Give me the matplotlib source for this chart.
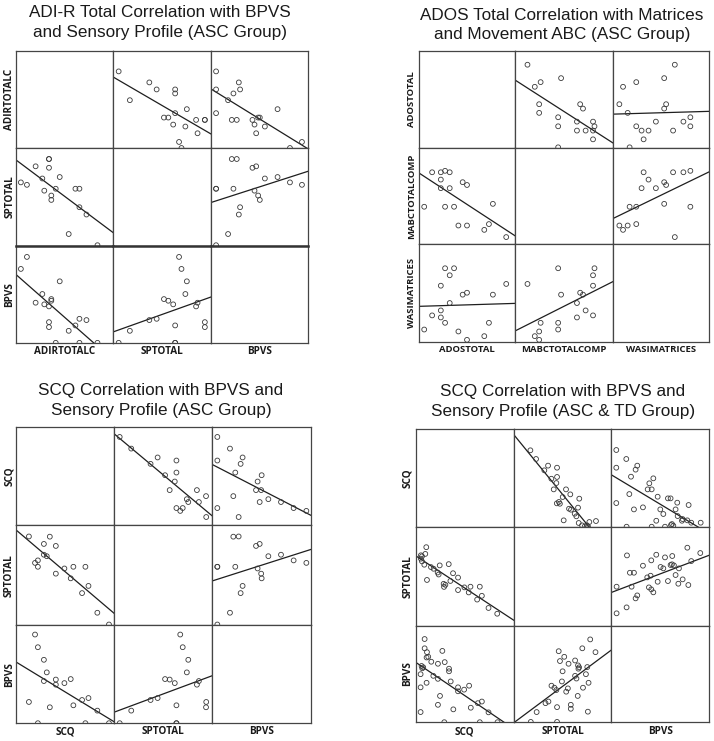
import numpy as np
import matplotlib
matplotlib.use("Agg")
import matplotlib.pyplot as plt

# ---------------- data ----------------
# Values are in display units (0-100 of each variable's plotted range),
# read from the picture (no tick labels are shown in the original).

# Panel 1: ASC group, one entry per child
p1_names = ["ADIRTOTALC", "SPTOTAL", "BPVS"]
p1_adir = [78.8, 67.5, 60.3, 60.3, 56.2, 49.3, 40.1, 36.0, 31.5, 31.5, 29.1, 29.1, 29.1, 24.3, 22.3, 15.4, 6.5, 0.3]
p1_sp = [0.5, 32.0, 39.5, 58.5, 58.5, 12.0, 70.5, 58.5, 51.5, 47.0, 89.0, 89.0, 80.0, 56.5, 69.0, 81.5, 62.5, 65.0]
p1_bpvs = [0.5, 23.8, 25.1, 0.5, 18.3, 12.8, 63.5, 0.5, 43.6, 45.3, 16.6, 21.7, 37.8, 39.9, 50.5, 41.6, 88.5, 76.2]

# Panel 2: ASC group
p2_names = ["ADOSTOTAL", "MABCTOTALCOMP", "WASIMATRICES"]
p2_ados = [85.6, 62.9, 67.7, 71.8, 45.0, 45.0, 40.5, 36.1, 31.6, 27.1, 27.1, 22.3, 22.3, 17.9, 17.9, 17.9, 8.9, 0.7]
p2_mabc = [7.5, 15.0, 21.0, 42.0, 19.5, 61.6, 64.5, 19.5, 39.0, 58.3, 74.8, 39.0, 76.3, 58.3, 67.2, 74.8, 74.8, 39.0]
p2_wasi = [59.3, 5.7, 19.4, 48.3, 1.9, 50.3, 48.3, 10.5, 75.4, 39.7, 68.2, 19.4, 75.4, 24.9, 32.1, 57.5, 27.0, 12.5]

# Panel 3: ASC group
p3_names = ["SCQ", "SPTOTAL", "BPVS"]
p3_scq = [89.6, 77.8, 68.8, 62.3, 53.5, 65.7, 50.8, 44.4, 35.7, 35.7, 29.6, 26.5, 23.6, 23.6, 17.5, 17.5, 14.6, 8.4]
p3_sp = [0.5, 12.3, 39.2, 32.0, 58.4, 58.4, 46.8, 56.7, 79.3, 51.5, 88.6, 69.0, 81.3, 70.5, 58.4, 64.8, 62.3, 88.8]
p3_bpvs = [0.1, 12.9, 25.7, 23.7, 18.3, 0.1, 45.0, 40.9, 39.3, 44.5, 16.3, 51.8, 43.0, 64.6, 0.1, 77.4, 90.3, 21.7]

# Panel 4: ASC & TD group, read pair by pair
p4_names = ["SCQ", "SPTOTAL", "BPVS"]
p4_scq_vs_sp_scq = [78.2, 69.3, 62.5, 60.4, 57.7, 49.1, 50.9, 44.7, 38.2, 38.2, 33.1, 30.4, 28.7,
                    23.9, 25.3, 23.5, 18.4, 17.4, 19.5, 13.3, 10.6, 6.5, 3.8, 1.4, 1.4, 4.8, 5.8, 0.3, 0.3]
p4_scq_vs_sp_sp = [12.1, 17.9, 30.2, 39.4, 26.4, 33.6, 39.4, 38.7, 36.0, 48.6, 53.0, 45.2, 62.2,
                   39.2, 41.3, 42.3, 51.7, 53.7, 60.9, 57.5, 59.2, 46.2, 61.6, 65.0, 70.1, 72.5, 79.3, 67.7, 71.1]
p4_scq_vs_bpvs_scq = [78.5, 69.3, 62.5, 58.4, 51.2, 60.4, 38.2, 38.2, 44.4, 49.5, 33.4, 30.7, 29.0, 29.0,
                      24.2, 19.8, 17.7, 17.7, 17.7, 22.2, 13.0, 24.6, 10.9, 6.1, 2.7, 6.1, 7.8, 6.5, 4.1,
                      4.1, 0.0, 0.0, 0.0, 1.7, 1.0]
p4_scq_vs_bpvs_bpvs = [0.1, 10.3, 21.5, 19.8, 15.1, 0.1, 32.1, 36.2, 33.8, 37.9, 13.4, 42.3, 52.8, 55.5,
                       0.1, 27.3, 18.1, 45.0, 60.6, 73.9, 48.1, 62.3, 62.7, 40.9, 56.9, 67.1, 67.8, 72.6, 76.6,
                       86.2, 10.6, 36.2, 49.8, 55.9, 58.3]
p4_sp_vs_bpvs_sp = [71.0, 39.4, 12.5, 18.5, 53.5, 53.5, 39.4, 27.6, 30.6, 60.6, 48.8, 50.5, 66.0, 38.7,
                    36.7, 33.7, 71.7, 44.4, 59.3, 57.9, 69.0, 45.1, 61.3, 70.4, 62.0, 60.9, 51.2, 57.9,
                    42.4, 46.8, 41.1, 78.8, 65.3, 73.4]
p4_sp_vs_bpvs_bpvs = [11.0, 0.4, 0.4, 10.6, 14.0, 18.1, 15.7, 19.8, 21.5, 27.3, 31.7, 35.1, 35.8, 33.4,
                      35.8, 37.9, 40.9, 42.3, 45.3, 48.1, 49.8, 52.8, 55.5, 57.2, 56.9, 58.9, 60.6, 64.0,
                      63.4, 67.8, 73.6, 72.6, 76.6, 85.8]

titles = [
    ("ADI-R Total Correlation with BPVS", "and Sensory Profile (ASC Group)"),
    ("ADOS Total Correlation with Matrices", "and Movement ABC (ASC Group)"),
    ("SCQ Correlation with BPVS and", "Sensory Profile (ASC Group)"),
    ("SCQ Correlation with BPVS and", "Sensory Profile (ASC & TD Group)"),
]

# ---------------- figure ----------------
W, H = 714, 741
fig = plt.figure(figsize=(W / 100, H / 100), dpi=100)

GRID_COLOR = "#454545"
PT_COLOR = "#3a3a3a"
LINE_COLOR = "#1e1e1e"
TEXT_COLOR = "#1a1a1a"
LABEL_FONT = dict(family=["Open Sans", "DejaVu Sans"], fontweight="bold", color=TEXT_COLOR)
TITLE_FONT = dict(family=["Liberation Sans", "DejaVu Sans"], fontsize=12.3, color=TEXT_COLOR)


def subject_pairs(cols):
    def get(j, i):
        return cols[j], cols[i]
    return get


def pair_lookup(table):
    def get(j, i):
        if (j, i) in table:
            return table[(j, i)]
        xs_other, ys_other = table[(i, j)]
        return ys_other, xs_other
    return get


def draw_matrix(gx, gy, names, get, title, title_x, title_base, rowlab_x, collab_y,
                thick_row_top=None, label_size=7.0):
    for i in range(3):
        for j in range(3):
            x0, x1 = gx[j], gx[j + 1]
            y0, y1 = gy[i], gy[i + 1]
            ax = fig.add_axes([x0 / W, 1 - y1 / H, (x1 - x0) / W, (y1 - y0) / H])
            ax.set_xticks([])
            ax.set_yticks([])
            for s in ax.spines.values():
                s.set_color(GRID_COLOR)
                s.set_linewidth(0.9)
            if thick_row_top is not None and i == thick_row_top:
                ax.spines["top"].set_linewidth(1.8)
                ax.spines["top"].set_color("#333333")
            ax.set_facecolor("white")
            if i != j:
                xv, yv = get(j, i)
                xv = np.asarray(xv, float)
                yv = np.asarray(yv, float)
                ax.scatter(xv, yv, s=12, facecolors="none", edgecolors=PT_COLOR,
                           linewidths=0.6, zorder=3)
                k, b = np.polyfit(xv, yv, 1)
                xs = np.array([-5.0, 95.0])
                ax.plot(xs, k * xs + b, color=LINE_COLOR, lw=0.9, zorder=2)
            ax.set_xlim(-5, 95)
            ax.set_ylim(0, 100)
    # labels
    for i, nm in enumerate(names):
        cy = (gy[i] + gy[i + 1]) / 2
        fig.text(rowlab_x / W, 1 - cy / H, nm, rotation=90, ha="center", va="center",
                 fontsize=label_size, **LABEL_FONT)
        cx = (gx[i] + gx[i + 1]) / 2
        fig.text(cx / W, 1 - collab_y / H, nm, ha="center", va="center",
                 fontsize=label_size, **LABEL_FONT)
    for line, yb in zip(title, title_base):
        fig.text(title_x / W, 1 - yb / H, line, ha="center", va="baseline", **TITLE_FONT)


draw_matrix([15.7, 113.3, 210.7, 308.3], [50.7, 148.3, 245.7, 343.3], p1_names,
            subject_pairs([p1_adir, p1_sp, p1_bpvs]), titles[0], 160, (17, 37), 10, 351.5,
            thick_row_top=2, label_size=7.2)
draw_matrix([418.7, 515.3, 612.7, 709.3], [50.7, 148.0, 244.3, 341.7], p2_names,
            subject_pairs([p2_ados, p2_mabc, p2_wasi]), titles[1], 562, (20, 39.5), 412, 350,
            label_size=6.8)
draw_matrix([15.7, 114.3, 212.3, 311.0], [426.7, 525.3, 625.0, 723.3], p3_names,
            subject_pairs([p3_scq, p3_sp, p3_bpvs]), titles[2], 161, (395, 415), 9.5, 731.5,
            label_size=7.2)
p4_table = {
    (1, 0): (p4_scq_vs_sp_sp, p4_scq_vs_sp_scq),
    (2, 0): (p4_scq_vs_bpvs_bpvs, p4_scq_vs_bpvs_scq),
    (2, 1): (p4_sp_vs_bpvs_bpvs, p4_sp_vs_bpvs_sp),
}
draw_matrix([415.7, 513.7, 611.3, 709.3], [429.0, 526.7, 625.7, 722.3], p4_names,
            pair_lookup(p4_table), titles[3], 563, (396, 416), 408, 731.5,
            label_size=7.2)

fig.savefig("out.png", dpi=100, facecolor="white")
